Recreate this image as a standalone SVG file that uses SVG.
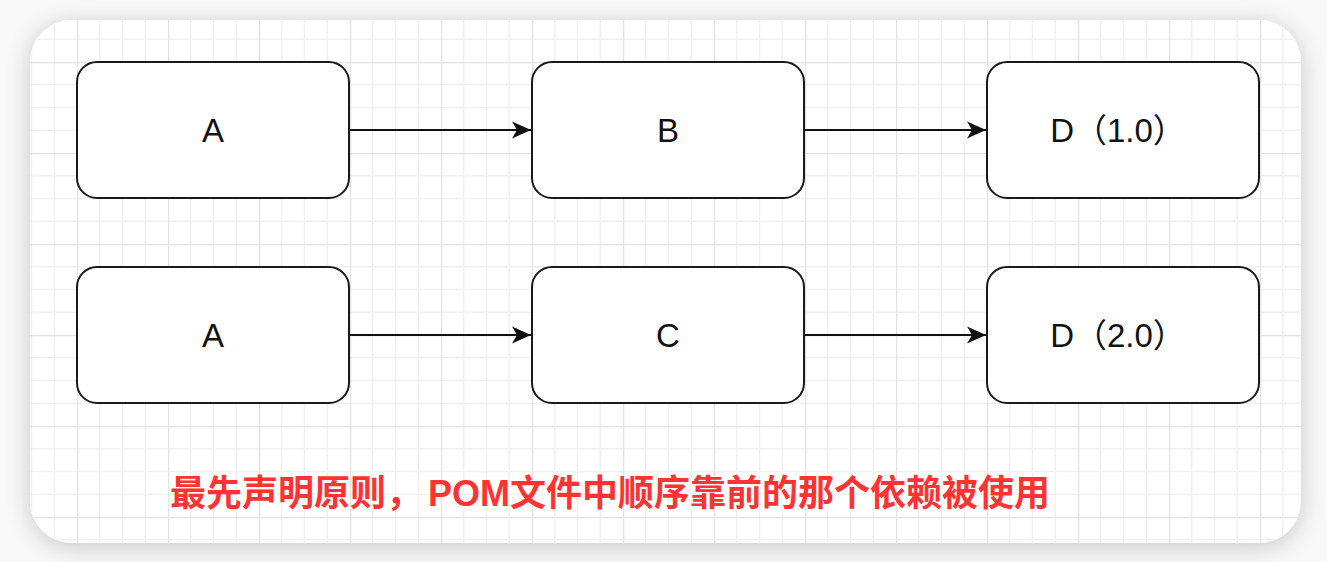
<svg xmlns="http://www.w3.org/2000/svg" width="1327" height="562" viewBox="0 0 1327 562">
  <defs>
    <style>
      .node rect { fill: #ffffff; stroke: #1a1a1a; stroke-width: 2; }
      .node text { font-family: "Liberation Sans", "Noto Sans CJK SC", sans-serif; font-size: 33px; fill: #111111; text-anchor: middle; dominant-baseline: central; }
      .edge { stroke: #111111; stroke-width: 2; fill: none; marker-end: url(#arrow); }
      .note { font-family: "Liberation Sans", "Noto Sans CJK SC", sans-serif; font-size: 36px; font-weight: bold; fill: #ff3333; }
    </style>
    <marker id="arrow" viewBox="0 0 20 20" refX="19" refY="10" markerWidth="20" markerHeight="20" markerUnits="userSpaceOnUse" orient="auto">
      <path d="M0,1.5 L19,10 L0,18.5 L5,10 Z" fill="#111111"/>
    </marker>
    <pattern id="grid" patternUnits="userSpaceOnUse" x="77" y="62" width="91" height="91">
      <path d="M22.75,0 V91 M45.5,0 V91 M68.25,0 V91 M0,22.75 H91 M0,45.5 H91 M0,68.25 H91" stroke="#f1f1f1" stroke-width="1.5" fill="none"/>
      <path d="M0.5,0 V91 M0,0.5 H91" stroke="#e3e3e3" stroke-width="1.5" fill="none"/>
    </pattern>
    <filter id="shadow" x="-10%" y="-10%" width="120%" height="125%">
      <feGaussianBlur in="SourceAlpha" stdDeviation="12"/>
      <feOffset dy="4" result="b"/>
      <feComponentTransfer><feFuncA type="linear" slope="0.2"/></feComponentTransfer>
      <feMerge><feMergeNode/><feMergeNode in="SourceGraphic"/></feMerge>
    </filter>
  </defs>

  <rect x="0" y="0" width="1327" height="562" fill="#f8f8f8"/>
  <rect x="30" y="20" width="1271" height="523" rx="42" ry="42" fill="#ffffff" filter="url(#shadow)"/>
  <rect x="30" y="20" width="1271" height="523" rx="42" ry="42" fill="url(#grid)"/>

  <g id="connectors">
    <line class="edge" x1="349" y1="130" x2="531" y2="130"/>
    <line class="edge" x1="804" y1="130" x2="986" y2="130"/>
    <line class="edge" x1="349" y1="335" x2="531" y2="335"/>
    <line class="edge" x1="804" y1="335" x2="986" y2="335"/>
  </g>

  <g id="node-a1" class="node">
    <rect x="77" y="62" width="272" height="136" rx="20" ry="20"/>
    <text x="213" y="130">A</text>
  </g>
  <g id="node-b" class="node">
    <rect x="532" y="62" width="272" height="136" rx="20" ry="20"/>
    <text x="668" y="130">B</text>
  </g>
  <g id="node-d1" class="node">
    <rect x="987" y="62" width="272" height="136" rx="20" ry="20"/>
    <text x="1118" y="130">D（1.0）</text>
  </g>
  <g id="node-a2" class="node">
    <rect x="77" y="267" width="272" height="136" rx="20" ry="20"/>
    <text x="213" y="335">A</text>
  </g>
  <g id="node-c" class="node">
    <rect x="532" y="267" width="272" height="136" rx="20" ry="20"/>
    <text x="668" y="335">C</text>
  </g>
  <g id="node-d2" class="node">
    <rect x="987" y="267" width="272" height="136" rx="20" ry="20"/>
    <text x="1118" y="335">D（2.0）</text>
  </g>

  <g id="note">
    <text class="note" x="170" y="506">最先声明原则，<tspan dx="6">POM文件中顺序靠前的那个依赖被使用</tspan></text>
  </g>
</svg>
